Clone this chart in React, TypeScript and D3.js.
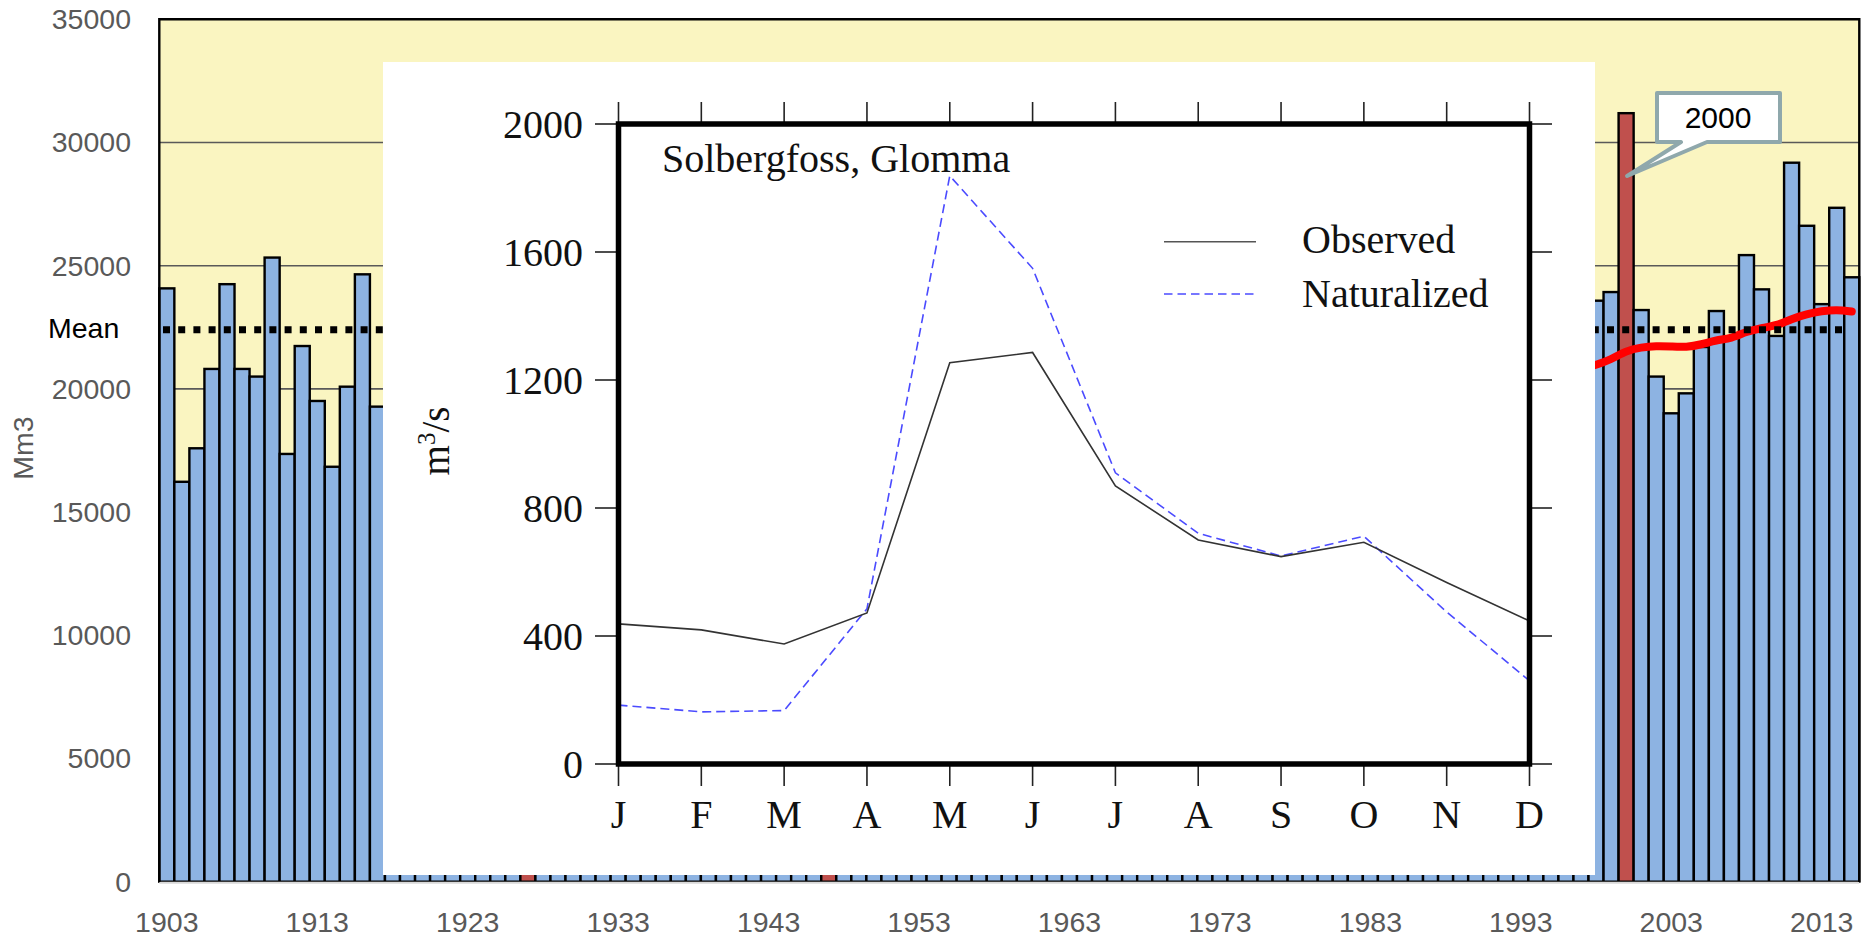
import React from 'react';
import * as d3 from 'd3';

// annual volume, Mm3, 1903..2015 (1918-1997 sit behind the inset)
const firstYear = 1903;
const volumes = [
  24080, 16230, 17590, 20810, 24250, 20810, 20500, 25330, 17360, 21740,
  19510, 16840, 20090, 24650, 19280,
  21500, 19800, 24600, 20300, 23100, 22800, 25700, 21900, 23400, 28900,
  24100, 19600, 21200, 22700, 23900, 20100, 24800, 21300, 22600, 19900,
  25300, 22100, 17800, 18600, 16900, 23800, 21400, 20700, 19200, 15300,
  21800, 23600, 22900, 24300, 20400, 21700, 22300, 18900, 20800, 23500,
  21100, 19400, 20600, 22400, 21900, 18700, 20300, 21600, 23700, 26100,
  21400, 17900, 20100, 19700, 21800, 22500, 21300, 20900, 18400, 19300,
  20200, 23800, 19100, 22700, 20500, 25600, 22300, 20800, 21900, 24700,
  26200, 24900, 23500, 19800, 21700, 22600, 20900, 26700, 17600, 22800,
  23580, 23930, 31190, 23200, 20500, 19010, 19820, 21700, 23160, 22100,
  25430, 24040, 22150, 29180, 26620, 23440, 27350, 24530,
];
const highlightYears = [1927, 1947, 2000];
const meanVolume = 22400;
const yTicks = [0, 5000, 10000, 15000, 20000, 25000, 30000, 35000];

// smoothed trend (red line), only the visible end
const trendYears = [1996, 1997, 1998, 1999, 2000, 2001, 2002, 2003, 2004, 2005, 2006,
  2007, 2008, 2009, 2010, 2011, 2012, 2013, 2014, 2015];
const trendValues = [20700, 20800, 20970, 21190, 21550, 21690, 21740, 21720, 21690, 21800,
  21985, 22045, 22330, 22470, 22570, 22840, 23040, 23160, 23220, 23140];

// inset: mean monthly discharge, m3/s
const months = ['J', 'F', 'M', 'A', 'M', 'J', 'J', 'A', 'S', 'O', 'N', 'D'];
const observed = [438, 419, 375, 472, 1254, 1286, 869, 700, 648, 693, 567, 447];
const naturalized = [184, 163, 167, 485, 1838, 1549, 910, 721, 650, 712, 475, 260];
const insetTicks = [0, 400, 800, 1200, 1600, 2000];

const sans = '"Liberation Sans", Arial, sans-serif';
const serif = '"Liberation Serif", "Times New Roman", serif';
const grey = '#595959';

export default function App() {
  const years = volumes.map((_, i) => firstYear + i);
  const x = d3.scaleBand<number>().domain(years).range([159.3, 1859.3]).padding(0);
  const y = d3.scaleLinear().domain([0, 35000]).range([881.7, 19.3]);
  const bw = x.bandwidth();
  const cx = (yr: number) => (x(yr) as number) + bw / 2;

  const trend = d3.line<number>()
    .x((_, i) => cx(trendYears[i]))
    .y(d => y(d))
    .curve(d3.curveBasis)(trendValues);

  // inset scales
  const ix = d3.scalePoint<number>().domain(d3.range(12)).range([618.5, 1529.5]);
  const iy = d3.scaleLinear().domain([0, 2000]).range([764, 124]);
  const iline = d3.line<number>().x((_, i) => ix(i) as number).y(d => iy(d));

  // callout box for 2000
  const bx0 = 1657, bx1 = 1780, by0 = 93, by1 = 142;
  const tipX = cx(2000) + 1, tipY = 176;
  const callout = `M${bx0},${by0}H${bx1}V${by1}H1707L${tipX},${tipY}L1681,${by1}H${bx0}Z`;

  return (
    <svg width={1864} height={939} style={{ position: 'absolute', left: 0, top: 0, background: '#fff' }}>
      <rect x={159.3} y={19.3} width={1700} height={862.4} fill="#FAF5C1" />
      {yTicks.filter(t => t > 0 && t < 35000).map(t => (
        <line key={t} x1={159.3} x2={1859.3} y1={y(t)} y2={y(t)} stroke={grey} strokeWidth={1.6} />
      ))}
      {years.map((yr, i) => (
        <rect key={yr} x={x(yr)} y={y(volumes[i])} width={bw} height={y(0) - y(volumes[i])}
          fill={highlightYears.includes(yr) ? '#C0504D' : '#8DB3E2'} stroke="#000" strokeWidth={2.4} />
      ))}
      <path d={trend ?? ''} fill="none" stroke="#FF0000" strokeWidth={8} strokeLinecap="round" />
      <line x1={163} x2={1846} y1={y(meanVolume)} y2={y(meanVolume)} stroke="#000" strokeWidth={7} strokeDasharray="7 8.2" />
      <line x1={159.3} x2={1859.3} y1={882.8} y2={882.8} stroke="#D9D9D9" strokeWidth={2} />
      <path d="M159.3,882V19.3H1859.3V882" fill="none" stroke="#000" strokeWidth={2.4} />

      {yTicks.map(t => (
        <text key={t} x={131} y={y(t)} dy="0.35em" textAnchor="end" fontFamily={sans} fontSize={28.5} fill={grey}>{t}</text>
      ))}
      {years.filter(yr => (yr - firstYear) % 10 === 0).map(yr => (
        <text key={yr} x={cx(yr)} y={932} textAnchor="middle" fontFamily={sans} fontSize={28.5} fill={grey}>{yr}</text>
      ))}
      <text x={48} y={338} fontFamily={sans} fontSize={28.5} fill="#000">Mean</text>
      <text transform="translate(33,448) rotate(-90)" textAnchor="middle" fontFamily={sans} fontSize={28.5} fill={grey}>Mm3</text>

      {/* inset */}
      <rect x={383} y={62} width={1212} height={813} fill="#fff" />
      {insetTicks.map(t => (
        <g key={t} stroke="#222" strokeWidth={1.6}>
          <line x1={595} x2={618.5} y1={iy(t)} y2={iy(t)} />
          <line x1={1529.5} x2={1552} y1={iy(t)} y2={iy(t)} />
        </g>
      ))}
      {months.map((_, i) => (
        <g key={i} stroke="#222" strokeWidth={1.6}>
          <line x1={ix(i)} x2={ix(i)} y1={102} y2={124} />
          <line x1={ix(i)} x2={ix(i)} y1={764} y2={786} />
        </g>
      ))}
      <path d={iline(naturalized) ?? ''} fill="none" stroke="#4B4BFF" strokeWidth={1.6} strokeDasharray="9 5" />
      <path d={iline(observed) ?? ''} fill="none" stroke="#333" strokeWidth={1.6} />
      <rect x={618.5} y={124} width={911} height={640} fill="none" stroke="#000" strokeWidth={5.5} />
      {insetTicks.map(t => (
        <text key={t} x={583} y={iy(t)} dy="0.34em" textAnchor="end" fontFamily={serif} fontSize={40} fill="#111">{t}</text>
      ))}
      {months.map((m, i) => (
        <text key={i} x={ix(i)} y={828} textAnchor="middle" fontFamily={serif} fontSize={40} fill="#111">{m}</text>
      ))}
      <text transform="translate(449,441) rotate(-90)" textAnchor="middle" fontFamily={serif} fontSize={39} fill="#111">
        m<tspan fontSize={25} dy={-14}>3</tspan><tspan dy={14}>/s</tspan>
      </text>
      <text x={662} y={172} fontFamily={serif} fontSize={40} fill="#111">Solbergfoss, Glomma</text>
      <line x1={1164} x2={1256} y1={241.7} y2={241.7} stroke="#555" strokeWidth={1.6} />
      <line x1={1164} x2={1256} y1={294} y2={294} stroke="#4B4BFF" strokeWidth={1.6} strokeDasharray="8.5 5" />
      <text x={1302} y={253} fontFamily={serif} fontSize={40} fill="#111">Observed</text>
      <text x={1302} y={307} fontFamily={serif} fontSize={40} fill="#111">Naturalized</text>

      {/* callout */}
      <path d={callout} fill="#fff" stroke="#8FA8AC" strokeWidth={4} strokeLinejoin="round" />
      <text x={1718} y={128} textAnchor="middle" fontFamily={sans} fontSize={30} fill="#000">2000</text>
    </svg>
  );
}
